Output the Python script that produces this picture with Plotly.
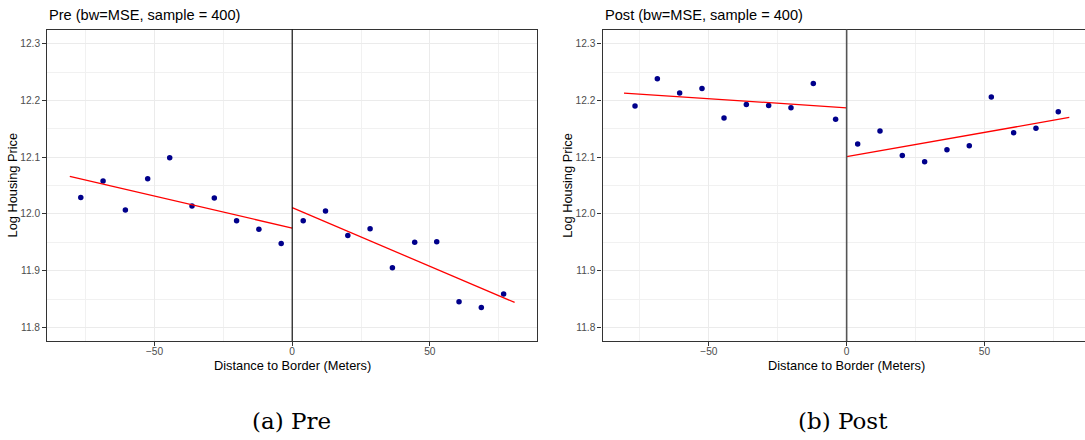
import plotly.graph_objs as go

# Binned means
bin_x = [-76.8, -68.7, -60.6, -52.5, -44.5, -36.4, -28.3, -20.2, -12.1, -4.0,
         4.0, 12.1, 20.2, 28.3, 36.4, 44.5, 52.5, 60.6, 68.7, 76.8]

pre_y = [12.029, 12.058, 12.007, 12.062, 12.099, 12.014, 12.028, 11.988, 11.973, 11.948,
         11.988, 12.005, 11.962, 11.974, 11.905, 11.950, 11.951, 11.845, 11.835, 11.859]

post_y = [12.190, 12.238, 12.213, 12.221, 12.169, 12.193, 12.191, 12.187, 12.230, 12.167,
          12.123, 12.146, 12.103, 12.092, 12.113, 12.120, 12.206, 12.143, 12.151, 12.180]

# Linear fits on each side of the border
fit_left_x = [-80.8, 0]
fit_right_x = [0, 80.8]
pre_fit_left = [12.066, 11.975]
pre_fit_right = [12.011, 11.844]
post_fit_left = [12.213, 12.187]
post_fit_right = [12.101, 12.170]

panel_titles = ['Pre (bw=MSE, sample = 400)', 'Post (bw=MSE, sample = 400)']
captions = ['(a) Pre', '(b) Post']
x_title = 'Distance to Border (Meters)'
y_title = 'Log Housing Price'

W, H = 1085, 440
sans = 'Liberation Sans, Arial, sans-serif'

fig = go.Figure()

panels = [(pre_y, pre_fit_left, pre_fit_right, 'x', 'y'),
          (post_y, post_fit_left, post_fit_right, 'x2', 'y2')]

for ys, fl, fr, xr, yr in panels:
    fig.add_trace(go.Scatter(x=bin_x, y=ys, mode='markers', xaxis=xr, yaxis=yr,
                             marker={'color': '#00008B', 'size': 5.5}))
    fig.add_trace(go.Scatter(x=fit_left_x, y=fl, mode='lines', xaxis=xr, yaxis=yr,
                             line={'color': '#FF0000', 'width': 1.3}))
    fig.add_trace(go.Scatter(x=fit_right_x, y=fr, mode='lines', xaxis=xr, yaxis=yr,
                             line={'color': '#FF0000', 'width': 1.3}))

# panel geometry in pixels
left_px = [(47.2, 537.2), (602.5, 1085.0)]
zero_px = [292.4, 846.7]
top_px, bottom_px = 29.5, 341.0
x_ranges = [[-89.0, 89.0], [-88.6, 86.5]]
y_range = [11.776, 12.325]
zero_colors = ['#000000', '#555555']
zero_widths = [1.1, 1.6]


def axis_common():
    return dict(showgrid=True, gridcolor='#EBEBEB', gridwidth=1.1,
                zeroline=False, showline=True, linecolor='#333333', linewidth=1.2,
                ticks='outside', ticklen=4, tickcolor='#333333', tickwidth=1,
                tickfont={'family': sans, 'size': 10.2, 'color': '#4D4D4D'},
                automargin=False)


annotations = []
shapes = []
for i, sfx in enumerate(['', '2']):
    x0, x1 = left_px[i]
    xa = axis_common()
    xa.update(domain=[x0 / W, x1 / W], range=x_ranges[i], anchor='y' + sfx,
              tick0=0, dtick=50, mirror=True, ticklabelstandoff=-3,
              minor={'dtick': 25, 'showgrid': True, 'gridcolor': '#F1F1F1', 'gridwidth': 0.8})
    ya = axis_common()
    ya.update(domain=[(H - bottom_px) / H, (H - top_px) / H], range=y_range,
              anchor='x' + sfx, tick0=11.8, dtick=0.1, tickformat='.1f',
              mirror=(i == 0),
              minor={'dtick': 0.05, 'showgrid': True, 'gridcolor': '#F1F1F1', 'gridwidth': 0.8})
    fig.layout['xaxis' + sfx] = xa
    fig.layout['yaxis' + sfx] = ya

    shapes.append(dict(type='line', xref='x' + sfx, yref='y' + sfx + ' domain',
                       x0=0, x1=0, y0=0, y1=1, layer='above',
                       line={'color': zero_colors[i], 'width': zero_widths[i]}))

    annotations.append(dict(text=panel_titles[i], x=x0 / W, y=(H - 14.5) / H,
                            xref='paper', yref='paper', xanchor='left', yanchor='middle',
                            showarrow=False, font={'family': sans, 'size': 14.6, 'color': '#000000'}))
    annotations.append(dict(text=x_title, x=zero_px[i] / W,
                            y=(H - 365.5) / H, xref='paper', yref='paper',
                            xanchor='center', yanchor='middle', showarrow=False,
                            font={'family': sans, 'size': 12.8, 'color': '#000000'}))
    annotations.append(dict(text=y_title, x=(x0 - 35) / W, y=(H - (top_px + bottom_px) / 2) / H,
                            xref='paper', yref='paper', xanchor='center', yanchor='middle',
                            textangle=-90, showarrow=False,
                            font={'family': sans, 'size': 12.8, 'color': '#000000'}))

caption_x = [291.7, 843.0]
for i, cap in enumerate(captions):
    annotations.append(dict(text=cap, x=caption_x[i] / W, y=(H - 420.5) / H,
                            xref='paper', yref='paper', xanchor='center', yanchor='middle',
                            showarrow=False,
                            font={'family': 'DejaVu Serif, serif', 'size': 23, 'color': '#000000'}))

fig.layout.update(width=W, height=H, autosize=False,
                  margin={'l': 0, 'r': 0, 't': 0, 'b': 0},
                  paper_bgcolor='white', plot_bgcolor='white',
                  showlegend=False, shapes=shapes, annotations=annotations)

# the page body has a default 8px margin; drop it so the figure sits at the window's corner
fig.write_html("out.html", config={'displayModeBar': False},
               post_script="document.body.style.margin='0';")
